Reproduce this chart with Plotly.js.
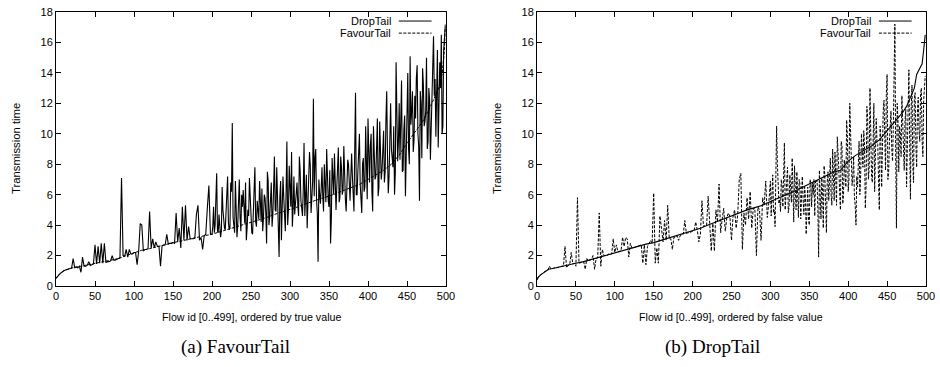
<!DOCTYPE html>
<html>
<head>
<meta charset="utf-8">
<script src="https://cdn.plot.ly/plotly-3.0.1.min.js"></script>
<style>html,body{margin:0;padding:0;background:#fff}#chart{width:940px;height:367px}</style>
</head>
<body>
<div id="chart"></div>
<script>
// ---- Panel (a): ordered by true value (FavourTail sorted) ----
const knotIdsA = [0,2,5,10,15,20,30,40,50,60,70,80,90,100,110,120,130,140,150,160,170,180,190,200,210,220,230,240,250,260,270,280,290,300,310,320,330,340,350,360,370,380,390,400,410,420,430,440,450,460,470,480,485,490,495,498,499];
const favourTailA = [0.5,0.65,0.8,1.0,1.1,1.18,1.28,1.38,1.45,1.55,1.65,1.8,2.0,2.2,2.35,2.45,2.6,2.7,2.85,2.95,3.05,3.15,3.3,3.4,3.55,3.7,3.85,4.0,4.15,4.35,4.5,4.7,4.85,5.0,5.2,5.4,5.6,5.75,5.9,6.1,6.3,6.5,6.7,7.0,7.3,7.6,8.0,8.6,9.4,10.1,10.8,11.8,12.3,12.9,13.9,15.5,17.2];
// DropTail values for flow ids 0,2,4,...,498
const dropTailA = [
 0.5,0.65,0.75,0.85,0.95,1.0,1.05,1.1,1.12,1.15,
 1.18,1.8,1.2,1.25,1.2,1.3,0.9,1.9,1.3,1.3,
 1.35,1.6,1.35,1.4,1.45,2.7,1.45,2.6,1.5,2.8,
 1.5,2.8,1.55,1.6,1.6,1.65,2.0,1.7,1.7,1.75,
 1.8,1.85,7.1,2.0,1.95,2.4,1.9,2.4,2.1,2.1,
 2.2,2.2,1.4,2.3,4.1,4.0,2.3,2.4,2.4,2.45,
 4.9,2.5,3.1,2.5,2.9,2.6,2.6,1.3,2.65,2.7,
 2.7,3.4,2.75,2.8,2.8,2.85,2.8,4.8,2.9,3.8,
 2.5,5.2,3.0,5.3,3.0,3.9,3.1,3.1,3.1,3.15,
 4.7,5.3,3.0,3.2,2.4,3.3,3.4,5.1,6.6,3.4,
 3.4,5.2,4.0,7.4,3.5,4.1,3.6,5.0,3.8,4.6,
 7.2,3.7,6.8,10.7,3.9,6.9,3.2,5.6,4.5,6.0,
 6.3,4.1,3.0,5.0,7.1,4.2,3.4,6.2,4.2,5.6,
 4.4,5.1,6.4,4.5,5.8,2.8,6.9,4.6,6.8,4.7,
 8.5,4.9,6.0,1.9,6.9,4.6,5.8,3.6,9.5,5.0,
 6.5,8.8,5.1,4.7,6.5,5.3,8.5,5.6,4.6,9.4,
 5.6,3.8,6.3,7.9,5.8,12.3,8.4,5.7,1.6,6.0,
 6.4,5.9,8.0,5.5,7.0,5.2,2.8,8.4,6.0,6.5,
 6.5,9.1,5.8,7.8,6.3,7.0,4.9,8.3,6.5,7.2,
 7.2,4.9,12.7,6.0,9.6,6.7,4.8,8.4,6.5,7.4,
 11.0,6.8,10.0,4.9,8.5,7.2,11.0,6.5,9.0,7.6,
 10.2,7.5,12.8,6.1,10.0,9.0,7.8,6.0,14.7,8.2,
 12.0,11.0,7.5,10.3,5.9,12.4,9.0,15.1,11.5,8.8,
 12.5,13.7,10.0,5.6,12.0,14.3,10.5,11.5,9.0,13.0,
 8.3,12.0,16.4,13.6,14.8,9.1,14.7,16.5,10.5,16.9
];
// DropTail values for odd flow ids 201,203,...,499
const dropTailAOdd = [
 3.9,3.5,5.8,3.6,4.7,3.2,6.5,3.9,3.7,5.5,
 4.2,3.8,6.2,4.5,3.5,5.0,4.0,7.0,3.6,5.2,
 4.5,6.8,3.8,4.6,5.9,3.5,4.6,7.8,3.9,5.0,
 6.9,4.2,3.6,6.0,4.8,7.5,4.0,5.5,3.9,6.4,
 5.0,7.8,4.4,5.9,3.0,7.2,5.0,6.2,4.0,7.9,
 5.2,3.9,7.2,5.5,6.8,4.6,7.6,5.0,6.3,4.6,
 7.3,5.1,8.8,4.8,6.9,5.9,9.0,4.8,7.0,5.4,
 7.8,4.9,6.3,9.0,5.6,7.6,4.4,6.7,8.7,5.0,
 7.7,5.5,8.5,6.0,9.2,5.7,6.8,8.0,5.6,8.7,
 6.3,9.0,6.0,7.5,10.0,5.5,8.0,6.2,10.5,5.7,
 8.0,9.2,6.2,10.5,7.0,8.8,5.9,10.8,7.0,9.8,
 6.8,11.0,8.6,7.2,12.0,8.0,10.5,7.4,11.5,9.5,
 8.3,13.5,7.6,11.2,9.0,14.0,8.0,10.6,12.8,9.6,
 11.0,14.5,9.2,12.8,8.4,13.2,10.8,15.0,9.5,12.2,
 10.2,14.8,12.5,9.8,15.5,11.0,13.0,10.0,15.5,17.0
];

// ---- Panel (b): ordered by false value (DropTail sorted) ----
const knotIdsB = [0,2,5,10,15,20,30,40,50,60,70,80,90,100,110,120,130,140,150,160,170,180,190,200,210,220,230,240,250,260,270,280,290,300,310,320,330,340,350,360,370,380,390,400,410,420,430,440,450,460,470,475,480,485,488,492,495,497,499];
const dropTailB = [0.4,0.6,0.75,0.95,1.1,1.15,1.25,1.35,1.5,1.6,1.75,1.9,2.05,2.2,2.35,2.5,2.6,2.75,2.85,3.0,3.15,3.3,3.45,3.6,3.8,4.0,4.2,4.45,4.6,4.8,5.0,5.15,5.3,5.55,5.75,6.0,6.2,6.45,6.7,6.95,7.25,7.45,7.6,8.2,8.6,8.9,9.2,9.6,10.2,10.8,11.4,11.8,12.4,13.0,13.9,14.3,14.6,15.5,16.5];
// FavourTail values for flow ids 0,2,4,...,498
const favourTailB = [
 0.5,0.6,0.7,0.8,0.9,0.95,1.0,1.05,1.3,1.1,
 1.15,1.2,1.2,1.2,1.25,1.25,1.3,1.3,2.6,1.2,
 1.35,1.4,2.2,1.45,1.5,1.3,5.8,1.5,1.55,1.55,
 1.6,1.1,1.8,1.65,1.7,1.75,2.0,1.1,1.8,1.85,
 4.8,1.3,2.4,2.0,2.0,2.0,2.1,2.05,2.1,3.1,
 2.2,2.7,2.25,2.3,2.3,3.2,2.6,3.2,3.1,1.9,
 2.8,2.5,2.5,2.55,2.6,2.6,2.65,2.7,1.5,2.7,
 1.4,2.6,2.8,3.0,2.8,6.1,1.5,2.5,1.5,4.6,
 3.8,2.9,4.3,3.0,5.3,3.1,3.1,2.4,3.2,3.2,
 3.3,3.0,3.3,3.35,3.4,4.3,3.45,3.5,3.5,3.55,
 3.6,3.65,4.2,3.7,2.9,3.4,5.6,3.9,4.0,4.0,
 5.9,4.0,2.3,4.1,2.3,5.0,4.2,6.7,3.5,4.4,
 5.1,3.6,4.5,4.8,4.55,3.0,4.6,5.0,3.8,4.7,
 7.0,7.4,2.4,4.8,4.0,5.8,4.4,6.2,3.8,5.1,
 5.1,2.0,5.2,5.0,3.0,5.8,5.3,6.9,4.5,5.5,
 6.9,5.6,4.8,3.9,10.5,5.8,5.7,7.0,5.2,9.4,
 6.0,7.8,5.2,6.1,8.4,4.2,6.3,7.5,4.5,6.7,
 6.45,5.8,6.5,3.4,6.5,4.0,6.7,6.8,7.0,6.9,
 6.95,1.9,6.4,7.1,3.8,7.2,3.5,7.5,7.4,6.0,
 9.0,5.6,7.5,9.8,7.6,5.0,9.2,6.0,7.6,10.9,
 6.2,12.0,8.3,7.3,5.8,4.0,6.5,9.5,7.3,8.8,
 10.2,5.1,11.8,7.0,13.0,7.2,11.2,6.2,11.0,9.3,
 5.0,9.6,9.8,12.2,7.6,13.9,7.5,10.3,9.0,10.5,
 17.2,3.8,10.9,10.5,8.5,11.0,7.6,11.6,9.0,14.2,
 5.7,13.2,6.8,12.7,7.8,12.4,9.5,13.0,8.5,12.8
];
// FavourTail values for odd flow ids 301,303,...,499
const favourTailBOdd = [
 4.6,7.3,5.0,6.2,8.0,5.4,4.9,6.6,8.2,5.0,
 6.9,4.8,7.3,5.5,6.0,7.9,5.0,5.6,7.0,4.4,
 7.2,4.7,5.9,6.2,4.4,7.0,5.2,6.0,4.6,6.8,
 5.0,7.6,4.4,6.3,7.9,4.2,6.8,5.6,8.4,5.3,
 6.6,8.8,5.3,7.9,6.2,9.5,5.4,8.3,6.5,9.8,
 7.0,10.5,6.6,8.5,5.3,7.2,9.0,6.0,10.0,7.8,
 9.2,6.5,11.0,7.8,9.8,6.8,12.0,8.0,9.5,7.0,
 10.5,6.5,11.5,8.5,12.5,7.0,9.5,11.5,8.2,13.0,
 9.0,12.0,7.5,10.0,12.5,8.6,10.8,6.5,12.8,9.5,
 11.8,8.0,12.3,9.3,11.5,10.2,12.6,9.6,12.2,13.8
];

const xTicks = [0,50,100,150,200,250,300,350,400,450,500];
const yTicks = [0,2,4,6,8,10,12,14,16,18];
const seriesNames = ['DropTail', 'FavourTail'];
const xTitleA = 'Flow id [0..499], ordered by true value';
const xTitleB = 'Flow id [0..499], ordered by false value';
const yTitle = 'Transmission time';
const captions = ['(a) FavourTail', '(b) DropTail'];

// merge even-id and odd-id readings into one series ordered by flow id
function merge(evenVals, oddVals, firstOdd) {
  const pts = evenVals.map((v, i) => [i * 2, v]).concat(oddVals.map((v, i) => [firstOdd + i * 2, v]));
  pts.sort((a, b) => a[0] - b[0]);
  return {x: pts.map(p => p[0]), y: pts.map(p => p[1])};
}
const spikyA = merge(dropTailA, dropTailAOdd, 201);
const spikyB = merge(favourTailB, favourTailBOdd, 301);

const DASH = '3px,1.5px';
const traces = [
  {x: spikyA.x, y: spikyA.y, xaxis: 'x', yaxis: 'y', mode: 'lines', name: seriesNames[0],
   line: {color: '#000', width: 1.1}, showlegend: false},
  {x: knotIdsA, y: favourTailA, xaxis: 'x', yaxis: 'y', mode: 'lines', name: seriesNames[1],
   line: {color: '#000', width: 1, dash: DASH}, showlegend: false},
  {x: knotIdsB, y: dropTailB, xaxis: 'x2', yaxis: 'y2', mode: 'lines', name: seriesNames[0],
   line: {color: '#000', width: 1.1}, showlegend: false},
  {x: spikyB.x, y: spikyB.y, xaxis: 'x2', yaxis: 'y2', mode: 'lines', name: seriesNames[1],
   line: {color: '#000', width: 1, dash: DASH}, showlegend: false}
];

const tickFont = {family: 'Liberation Sans, Arial, sans-serif', size: 11, color: '#000'};
function xa(domain, anchor) {
  return {domain: domain, anchor: anchor, range: [0, 500], tickvals: xTicks, ticktext: xTicks.map(String),
    ticks: 'inside', ticklen: 5, tickcolor: '#000', showline: true, linecolor: '#000', linewidth: 1,
    mirror: 'ticks', showgrid: false, zeroline: false, tickfont: tickFont, fixedrange: true};
}
function ya(domain, anchor) {
  return {domain: domain, anchor: anchor, range: [0, 18], tickvals: yTicks, ticktext: yTicks.map(String),
    ticks: 'inside', ticklen: 5, tickcolor: '#000', showline: true, linecolor: '#000', linewidth: 1,
    mirror: 'ticks', showgrid: false, zeroline: false, tickfont: tickFont, fixedrange: true};
}
const yDom = [81/367, 355/367];
const xLabFont = {family: 'Liberation Sans, Arial, sans-serif', size: 10.7, color: '#000'};
const yLabFont = {family: 'Liberation Sans, Arial, sans-serif', size: 11.3, color: '#000'};
const legFont = {family: 'Liberation Sans, Arial, sans-serif', size: 11, color: '#000'};
const capFont = {family: 'Liberation Serif, DejaVu Serif, serif', size: 19, color: '#000'};

const annotations = [];
const shapes = [];
[['x', 'y', xTitleA, 251/940, 16/940, captions[0], 236/940],
 ['x2', 'y2', xTitleB, 731/940, 497/940, captions[1], 712/940]].forEach(([xr, yr, xt, xc, ytx, cap, capx]) => {
  annotations.push({xref: 'paper', yref: 'paper', x: xc, y: (367-317)/367, text: xt, showarrow: false,
    font: xLabFont, xanchor: 'center', yanchor: 'middle'});
  annotations.push({xref: 'paper', yref: 'paper', x: ytx, y: (367-149)/367, text: yTitle, showarrow: false,
    font: yLabFont, textangle: -90, xanchor: 'center', yanchor: 'middle'});
  annotations.push({xref: 'paper', yref: 'paper', x: capx, y: (367-347)/367, text: cap, showarrow: false,
    font: capFont, xanchor: 'center', yanchor: 'middle'});
  const rows = [0.967, 0.923];
  seriesNames.forEach((nm, k) => {
    annotations.push({xref: xr + ' domain', yref: yr + ' domain', x: 0.864, y: rows[k], text: nm,
      showarrow: false, font: legFont, xanchor: 'right', yanchor: 'middle'});
    shapes.push({type: 'line', xref: xr + ' domain', yref: yr + ' domain', x0: 0.879, x1: 0.963,
      y0: rows[k], y1: rows[k], line: {color: '#000', width: 1, dash: k ? DASH : 'solid'}});
  });
});

const layout = {
  width: 940, height: 367, margin: {l: 0, r: 0, t: 0, b: 0},
  paper_bgcolor: '#fff', plot_bgcolor: '#fff', showlegend: false,
  xaxis: xa([56/940, 446/940], 'y'), yaxis: ya(yDom, 'x'),
  xaxis2: xa([537/940, 926/940], 'y2'), yaxis2: ya(yDom, 'x2'),
  annotations: annotations, shapes: shapes
};
Plotly.newPlot('chart', traces, layout, {staticPlot: true, displayModeBar: false});
</script>
</body>
</html>
